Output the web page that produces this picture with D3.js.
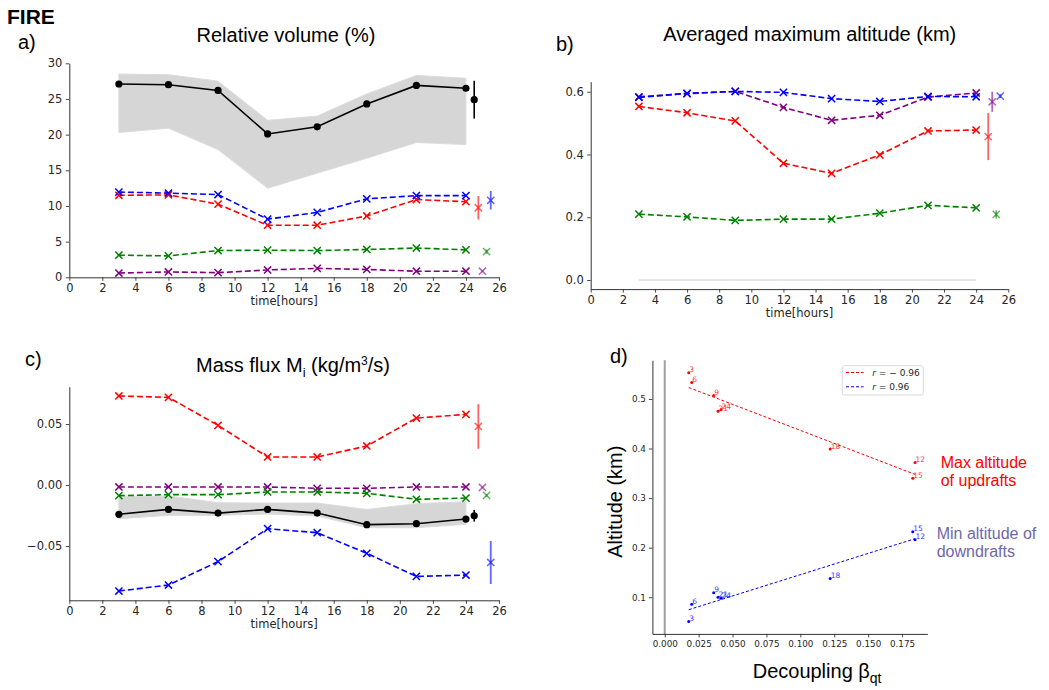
<!DOCTYPE html>
<html><head><meta charset="utf-8">
<script src="https://cdn.jsdelivr.net/npm/d3@7"></script>
<style>body{margin:0;background:#fff} svg{display:block}</style>
</head><body><svg id="chart" width="1049" height="690"></svg>
<script>
// ---------------- DATA ----------------
const times = [3, 6, 9, 12, 15, 18, 21, 24];
const hourTicks = [0, 2, 4, 6, 8, 10, 12, 14, 16, 18, 20, 22, 24, 26];

// a) Relative volume (%)
const volTotal   = [27.1, 27.0, 26.2, 20.1, 21.1, 24.3, 26.9, 26.5];
const volBandLo  = [20.3, 20.9, 17.9, 12.5, 14.6, 16.7, 18.9, 18.6];
const volBandHi  = [28.5, 28.4, 27.5, 22.0, 22.6, 25.7, 28.3, 27.9];
const volRed     = [11.5, 11.55, 10.25, 7.3, 7.3, 8.6, 10.9, 10.6];
const volBlue    = [11.95, 11.8, 11.6, 8.15, 9.1, 11.0, 11.45, 11.45];
const volGreen   = [3.1, 3.0, 3.75, 3.8, 3.75, 3.9, 4.1, 3.85];
const volPurple  = [0.6, 0.75, 0.65, 1.03, 1.25, 1.1, 0.85, 0.85];
const volTicks   = [0, 5, 10, 15, 20, 25, 30];

// b) Averaged maximum altitude (km)
const altBand    = [0, 0, 0, 0, 0, 0, 0, 0];
const altRed     = [0.553, 0.533, 0.507, 0.372, 0.340, 0.399, 0.475, 0.478];
const altBlue    = [0.582, 0.595, 0.601, 0.598, 0.578, 0.569, 0.585, 0.584];
const altGreen   = [0.210, 0.201, 0.190, 0.194, 0.194, 0.213, 0.238, 0.230];
const altPurple  = [0.584, 0.594, 0.601, 0.550, 0.509, 0.525, 0.583, 0.596];
const altTicks   = [0.0, 0.2, 0.4, 0.6];

// c) Mass flux
const mfTotal    = [-0.024, -0.020, -0.023, -0.020, -0.023, -0.0325, -0.0317, -0.0279];
const mfBandLo   = [-0.0276, -0.0249, -0.0249, -0.0238, -0.0254, -0.035, -0.035, -0.0322];
const mfBandHi   = [-0.0093, -0.009, -0.0145, -0.0148, -0.0148, -0.020, -0.0153, -0.0137];
const mfRed      = [0.073, 0.0719, 0.0489, 0.023, 0.023, 0.032, 0.0549, 0.0579];
const mfBlue     = [-0.0869, -0.082, -0.0628, -0.0358, -0.0391, -0.056, -0.0749, -0.0738];
const mfGreen    = [-0.0087, -0.0079, -0.0079, -0.0057, -0.0057, -0.0068, -0.0117, -0.0107];
const mfPurple   = [-0.0016, -0.0016, -0.0016, -0.0016, -0.0027, -0.0027, -0.0016, -0.0016];
const mfTicks    = [-0.05, 0.00, 0.05];

// time-mean points with error bars (order: black, red, purple, green, blue)
const meanX       = [24.5, 24.75, 25.0, 25.25, 25.5];
const volMeanY    = [24.9, 9.75, 0.85, 3.6, 10.8];
const volMeanErr  = [2.65, 1.65, 0.1, 0.3, 1.3];
const altMeanY    = [null, 0.457, 0.568, 0.209, 0.586];
const altMeanErr  = [null, 0.075, 0.032, 0.013, 0.006];
const mfMeanY     = [-0.0252, 0.048, -0.002, -0.0085, -0.0635];
const mfMeanErr   = [0.0048, 0.0183, 0.0005, 0.001, 0.0176];

// d) Altitude vs decoupling
const betaQt      = [0.0177, 0.0199, 0.0361, 0.1846, 0.1829, 0.122, 0.0393, 0.0415];
const maxAltUp    = [0.553, 0.533, 0.507, 0.372, 0.340, 0.399, 0.475, 0.478];
const minAltDown  = [0.051, 0.086, 0.109, 0.216, 0.232, 0.138, 0.100, 0.098];
const pointLabels = ["3", "6", "9", "12", "15", "18", "21", "24"];
const betaTicks   = [0.000, 0.025, 0.050, 0.075, 0.100, 0.125, 0.150, 0.175];
const dAltTicks   = [0.1, 0.2, 0.3, 0.4, 0.5];
const legendLabels = ["\u2212 0.96", "0.96"];

// ---------------- DRAWING ----------------
const COL = {black: "#000000", red: "#ff0000", purple: "#800080", green: "#008000", blue: "#0000ff"};
const meanColors = [COL.black, COL.red, COL.purple, COL.green, COL.blue];
const svg = d3.select("#chart");
const TXT = "'Liberation Sans', Arial, sans-serif";
const TICKF = "'DejaVu Sans', sans-serif";
const AXC = "#333";

function styleAxis(g, fs) {
  g.selectAll("path.domain").attr("stroke", AXC).attr("stroke-width", 1);
  g.selectAll(".tick line").attr("stroke", AXC).attr("stroke-width", 0.9);
  g.selectAll(".tick text").attr("fill", "#262626").attr("font-family", TICKF).attr("font-size", fs);
}

function xMark(g, x, y, color, opacity) {
  g.append("path")
    .attr("d", `M${x-3.6},${y-3.6}L${x+3.6},${y+3.6}M${x-3.6},${y+3.6}L${x+3.6},${y-3.6}`)
    .attr("stroke", color).attr("stroke-width", 1.5).attr("fill", "none")
    .attr("opacity", opacity);
}

function tsPanel(o) {
  const g = svg.append("g");
  const x = d3.scaleLinear().domain([0, 26]).range(o.xRange);
  const y = d3.scaleLinear().domain(o.yDomain).range(o.yRange);
  const gx = g.append("g").attr("transform", `translate(0,${o.yRange[0]})`)
    .call(d3.axisBottom(x).tickValues(hourTicks).tickFormat(d3.format("d")).tickSize(3.5).tickPadding(3.5).tickSizeOuter(0));
  styleAxis(gx, "11.5px");
  const gy = g.append("g").attr("transform", `translate(${o.xRange[0]},0)`)
    .call(d3.axisLeft(y).tickValues(o.yTicks).tickFormat(o.fmt).tickSize(3.5).tickPadding(3.5).tickSizeOuter(0));
  styleAxis(gy, "11.5px");
  g.append("text").attr("x", (o.xRange[0] + o.xRange[1]) / 2).attr("y", o.yRange[0] + 27.5)
    .attr("text-anchor", "middle").attr("font-family", TICKF).attr("font-size", "11.5px").attr("fill", "#262626")
    .text("time[hours]");

  if (o.band) {
    const area = d3.area().x((d, i) => x(times[i])).y0(d => y(d[0])).y1(d => y(d[1]));
    g.append("path").datum(o.band[0].map((v, i) => [v, o.band[1][i]]))
      .attr("d", area).attr("fill", "#d6d6d6").attr("stroke", "#dcdcdc").attr("stroke-width", 1);
  }
  const line = d3.line().x((d, i) => x(times[i])).y(d => y(d));
  if (o.total) {
    g.append("path").datum(o.total).attr("d", line).attr("fill", "none")
      .attr("stroke", COL.black).attr("stroke-width", 1.6);
    o.total.forEach((v, i) => g.append("circle").attr("cx", x(times[i])).attr("cy", y(v)).attr("r", 3.6).attr("fill", COL.black));
  }
  o.series.forEach(s => {
    g.append("path").datum(s.values).attr("d", line).attr("fill", "none")
      .attr("stroke", s.color).attr("stroke-width", 1.6).attr("stroke-dasharray", "6,3");
    s.values.forEach((v, i) => xMark(g, x(times[i]), y(v), s.color, 1));
  });
  // mean points with error bars
  o.meanY.forEach((v, i) => {
    if (v === null) return;
    const c = meanColors[i];
    const e = o.meanErr[i];
    const isBlack = i === 0;
    g.append("line").attr("x1", x(meanX[i])).attr("x2", x(meanX[i]))
      .attr("y1", y(v - e)).attr("y2", y(v + e))
      .attr("stroke", c).attr("stroke-width", isBlack ? 1.6 : 1.8).attr("opacity", isBlack ? 1 : 0.6);
    if (isBlack) g.append("circle").attr("cx", x(meanX[i])).attr("cy", y(v)).attr("r", 3.6).attr("fill", c);
    else xMark(g, x(meanX[i]), y(v), c, 0.6);
  });
}

// Panel a
tsPanel({
  xRange: [69.3, 499], yDomain: [0, 30], yRange: [277.3, 63.3], yTicks: volTicks, fmt: d3.format("d"),
  band: [volBandLo, volBandHi], total: volTotal,
  series: [{values: volPurple, color: COL.purple}, {values: volGreen, color: COL.green},
           {values: volRed, color: COL.red}, {values: volBlue, color: COL.blue}],
  meanY: volMeanY, meanErr: volMeanErr
});
// Panel b
tsPanel({
  xRange: [590.7, 1008.3], yDomain: [-0.029, 0.632], yRange: [289.1, 81.7], yTicks: altTicks, fmt: d3.format(".1f"),
  band: [altBand, altBand], total: null,
  series: [{values: altGreen, color: COL.green}, {values: altRed, color: COL.red},
           {values: altPurple, color: COL.purple}, {values: altBlue, color: COL.blue}],
  meanY: altMeanY, meanErr: altMeanErr
});
// Panel c
tsPanel({
  xRange: [69.3, 499], yDomain: [-0.0945, 0.0806], yRange: [600.3, 386.7], yTicks: mfTicks, fmt: d3.format(".2f"),
  band: [mfBandLo, mfBandHi], total: mfTotal,
  series: [{values: mfRed, color: COL.red}, {values: mfPurple, color: COL.purple},
           {values: mfGreen, color: COL.green}, {values: mfBlue, color: COL.blue}],
  meanY: mfMeanY, meanErr: mfMeanErr
});

// Panel d
(function () {
  const g = svg.append("g");
  const x = d3.scaleLinear().domain([-0.0091, 0.1937]).range([652.4, 927.4]);
  const y = d3.scaleLinear().domain([0.026, 0.578]).range([633.9, 360.3]);
  g.append("line").attr("x1", x(0)).attr("x2", x(0)).attr("y1", y(0.578)).attr("y2", y(0.026))
    .attr("stroke", "#a0a0a0").attr("stroke-width", 2);
  const gx = g.append("g").attr("transform", `translate(0,${y.range()[0]})`)
    .call(d3.axisBottom(x).tickValues(betaTicks).tickFormat(d3.format(".3f")).tickSize(3.5).tickPadding(3).tickSizeOuter(0));
  styleAxis(gx, "8.8px");
  const gy = g.append("g").attr("transform", `translate(${x.range()[0]},0)`)
    .call(d3.axisLeft(y).tickValues(dAltTicks).tickFormat(d3.format(".1f")).tickSize(3.5).tickPadding(3).tickSizeOuter(0));
  styleAxis(gy, "8.8px");

  function fit(xs, ys) {
    const mx = d3.mean(xs), my = d3.mean(ys);
    const b = d3.sum(xs, (v, i) => (v - mx) * (ys[i] - my)) / d3.sum(xs, v => (v - mx) * (v - mx));
    return v => my + b * (v - mx);
  }
  const xmin = d3.min(betaQt), xmax = d3.max(betaQt);
  [[maxAltUp, COL.red], [minAltDown, COL.blue]].forEach(([ys, c]) => {
    const f = fit(betaQt, ys);
    g.append("line").attr("x1", x(xmin)).attr("y1", y(f(xmin))).attr("x2", x(xmax)).attr("y2", y(f(xmax)))
      .attr("stroke", c).attr("stroke-width", 1).attr("stroke-dasharray", "3,2");
    ys.forEach((v, i) => {
      g.append("circle").attr("cx", x(betaQt[i])).attr("cy", y(v)).attr("r", 1.5).attr("fill", c);
      g.append("text").attr("x", x(betaQt[i]) + 0.5).attr("y", y(v) - 0.5)
        .attr("font-family", TICKF).attr("font-size", "7.5px").attr("fill", c).attr("opacity", 0.8)
        .text(pointLabels[i]);
    });
  });
  // legend
  const lg = g.append("g");
  lg.append("rect").attr("x", 842.3).attr("y", 365.7).attr("width", 81).attr("height", 29.3).attr("rx", 2)
    .attr("fill", "#fff").attr("fill-opacity", 0.8).attr("stroke", "#d0d0d0").attr("stroke-width", 0.8);
  [COL.red, COL.blue].forEach((c, i) => {
    const yy = 372.5 + i * 14.3;
    lg.append("line").attr("x1", 846).attr("x2", 863.5).attr("y1", yy).attr("y2", yy)
      .attr("stroke", c).attr("stroke-width", 1).attr("stroke-dasharray", "3,2");
    const t = lg.append("text").attr("x", 872.3).attr("y", yy + 3.3)
      .attr("font-family", TICKF).attr("font-size", "9px").attr("fill", "#262626");
    t.append("tspan").attr("font-style", "italic").text("r");
    t.append("tspan").text(" = " + legendLabels[i]);
  });
  // axis labels
  g.append("text").attr("transform", "translate(622,501.7) rotate(-90)").attr("text-anchor", "middle")
    .attr("font-family", TXT).attr("font-size", "20px").attr("fill", "#000").text("Altitude (km)");
  const xl = g.append("text").attr("x", 752.7).attr("y", 678)
    .attr("font-family", TXT).attr("font-size", "20px").attr("fill", "#000");
  xl.append("tspan").text("Decoupling \u03b2");
  xl.append("tspan").attr("dy", 5).attr("font-size", "14px").text("qt");
  // annotations
  const ann = [["Max altitude", "of updrafts", 940.7, 468.3, "#ff0000"],
               ["Min altitude of", "downdrafts", 936.7, 539.3, "#6f68a8"]];
  ann.forEach(([l1, l2, ax, ay, c]) => {
    const t = g.append("text").attr("font-family", TXT).attr("font-size", "16px").attr("fill", c);
    t.append("tspan").attr("x", ax).attr("y", ay).text(l1);
    t.append("tspan").attr("x", ax).attr("y", ay + 17.7).text(l2);
  });
})();

// titles and panel letters
function label(x, y, txt, size, weight, anchor) {
  return svg.append("text").attr("x", x).attr("y", y).attr("font-family", TXT).attr("font-size", size)
    .attr("font-weight", weight || "normal").attr("text-anchor", anchor || "start").attr("fill", "#000").text(txt);
}
label(7, 24, "FIRE", "21px", "bold");
label(18, 49, "a)", "20px");
label(556, 51, "b)", "20px");
label(25, 366, "c)", "20px");
label(610, 363, "d)", "20px");
label(286, 42, "Relative volume (%)", "20px", "normal", "middle");
label(809.7, 41, "Averaged maximum altitude (km)", "20px", "normal", "middle");
const mt = svg.append("text").attr("x", 293).attr("y", 372).attr("font-family", TXT).attr("font-size", "20px")
  .attr("text-anchor", "middle").attr("fill", "#000");
mt.append("tspan").text("Mass flux M");
mt.append("tspan").attr("dy", 5).attr("font-size", "13px").text("i");
mt.append("tspan").attr("dy", -5).text(" (kg/m");
mt.append("tspan").attr("dy", -7).attr("font-size", "12px").text("3");
mt.append("tspan").attr("dy", 7).text("/s)");
</script></body></html>
